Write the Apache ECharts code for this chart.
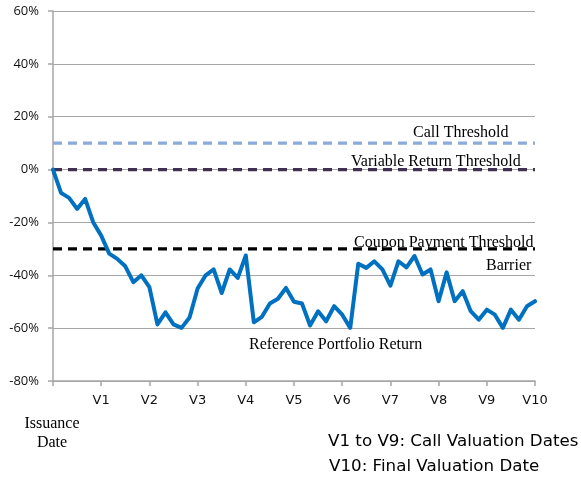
<!DOCTYPE html>
<html>
<head>
<meta charset="utf-8">
<script src="https://cdn.jsdelivr.net/npm/echarts@6/dist/echarts.min.js"></script>
<style>html,body{margin:0;padding:0;background:#fff;}#c{width:581px;height:480px;}</style>
</head>
<body>
<div id="c"></div>
<script>
const xTickLabels = ['', 'V1', 'V2', 'V3', 'V4', 'V5', 'V6', 'V7', 'V8', 'V9', 'V10'];
const stepsPerPeriod = 6;
const portfolioReturn = [
  0, -8.8, -10.7, -14.9, -11.1, -19.9, -25,
  -31.8, -33.8, -36.6, -42.6, -40, -44.5,
  -58.6, -54, -58.6, -59.9, -56, -45,
  -40, -37.8, -46.7, -37.8, -41, -32.5,
  -57.8, -55.7, -50.7, -48.9, -44.8, -50,
  -50.7, -59, -53.6, -57.4, -51.7, -54.9,
  -59.9, -35.6, -37.2, -34.7, -37.8, -43.9,
  -34.7, -37, -32.7, -39.7, -37.8, -49.8,
  -38.9, -49.8, -46, -53.6, -56.8, -53,
  -54.9, -59.9, -53, -56.8, -51.7, -49.8
];
const callThreshold = 10;
const variableReturnThreshold = 0;
const couponThreshold = -30;
const yTicks = [-80, -60, -40, -20, 0, 20, 40, 60];

const lastX = portfolioReturn.length - 1;
const hline = v => [[0, v], [lastX, v]];

const chart = echarts.init(document.getElementById('c'), null, {renderer: 'canvas'});
const serif = '"Liberation Serif", "Times New Roman", serif';
const sans = '"DejaVu Sans", sans-serif';
chart.setOption({
  animation: false,
  grid: {left: 53, right: 46, top: 11, bottom: 99},
  xAxis: {
    type: 'value', min: 0, max: lastX, interval: stepsPerPeriod,
    axisLine: {show: true, onZero: false, lineStyle: {color: '#A6A6A6', width: 1.5}},
    axisTick: {show: true, length: 5, lineStyle: {color: '#A6A6A6', width: 1.5}},
    splitLine: {show: false},
    axisLabel: {
      margin: 13, color: '#111', fontSize: 13, fontFamily: sans,
      formatter: v => xTickLabels[Math.round(v / stepsPerPeriod)] || ''
    }
  },
  yAxis: {
    type: 'value', min: yTicks[0], max: yTicks[yTicks.length - 1], interval: 20,
    axisLine: {show: true, lineStyle: {color: '#A6A6A6', width: 1.5}},
    axisTick: {show: true, length: 5, lineStyle: {color: '#A6A6A6', width: 1.5}},
    splitLine: {show: true, lineStyle: {color: '#A6A6A6', width: 1}},
    axisLabel: {margin: 14, color: '#111', fontSize: 13, fontFamily: '"Open Sans", sans-serif', formatter: '{value}%'}
  },
  series: [
    {type: 'line', data: hline(callThreshold), symbol: 'none', z: 3,
     lineStyle: {color: '#8EA9DB', width: 3.2, type: [9, 6]}},
    {type: 'line', data: hline(variableReturnThreshold), symbol: 'none', z: 3,
     lineStyle: {color: '#403151', width: 3.2, type: [9, 6]}},
    {type: 'line', data: hline(couponThreshold), symbol: 'none', z: 3,
     lineStyle: {color: '#000000', width: 3.2, type: [9, 6]}},
    {type: 'line', data: portfolioReturn.map((v, i) => [i, v]), symbol: 'none', z: 4,
     lineStyle: {color: '#0070C0', width: 4, cap: 'round', join: 'round'}}
  ],
  graphic: [
    {type: 'text', left: 413, top: 125, style: {text: 'Call Threshold', font: '16px ' + serif, fill: '#000'}},
    {type: 'text', left: 351, top: 154, style: {text: 'Variable Return Threshold', font: '16px ' + serif, fill: '#000'}},
    {type: 'text', left: 354, top: 235, style: {text: 'Coupon Payment Threshold', font: '16px ' + serif, fill: '#000'}},
    {type: 'text', left: 486, top: 258, style: {text: 'Barrier', font: '16px ' + serif, fill: '#000'}},
    {type: 'text', left: 249, top: 337, style: {text: 'Reference Portfolio Return', font: '16px ' + serif, fill: '#000'}},
    {type: 'text', x: 52, y: 414, style: {text: 'Issuance\nDate', font: '16px ' + serif, fill: '#000', align: 'center', verticalAlign: 'top', lineHeight: 19}},
    {type: 'text', left: 328, top: 433, style: {text: 'V1 to V9: Call Valuation Dates', font: '16.7px ' + sans, fill: '#000'}},
    {type: 'text', left: 329, top: 458, style: {text: 'V10: Final Valuation Date', font: '16.7px ' + sans, fill: '#000'}}
  ]
});
</script>
</body>
</html>
